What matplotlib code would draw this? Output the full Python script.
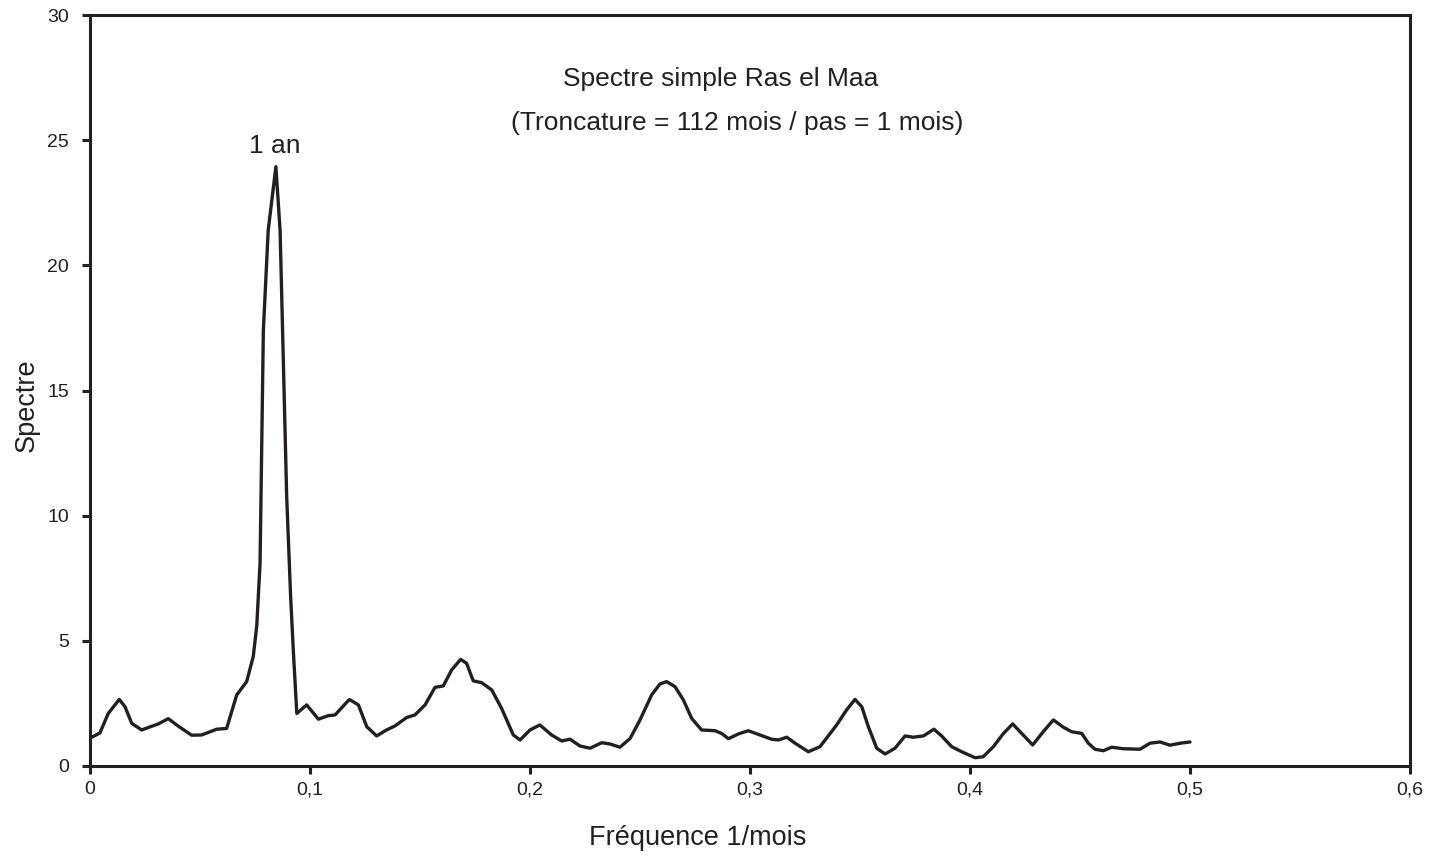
import matplotlib.pyplot as plt
import numpy as np

# spectrum (frequency in 1/mois, spectre)
freq = [0.0008, 0.0045, 0.0083, 0.0133, 0.0159, 0.019, 0.0235, 0.031, 0.0356, 0.040,
        0.0462, 0.0508, 0.0576, 0.0621, 0.0667, 0.0712, 0.0742, 0.0758, 0.0773, 0.0788,
        0.081, 0.0845, 0.0864, 0.0879, 0.0894, 0.0912, 0.0924, 0.094, 0.0985, 0.1038,
        0.1083, 0.1114, 0.1179, 0.122, 0.1258, 0.1303, 0.1348, 0.1386, 0.144, 0.1477,
        0.1523, 0.1568, 0.1606, 0.1644, 0.1685, 0.1712, 0.1742, 0.178, 0.1826, 0.1871,
        0.1924, 0.1955, 0.2, 0.2045, 0.2098, 0.2144, 0.2182, 0.2227, 0.2273, 0.2326,
        0.2364, 0.2409, 0.2455, 0.25, 0.2553, 0.2591, 0.2621, 0.2659, 0.2697, 0.2735,
        0.278, 0.2841, 0.2871, 0.2902, 0.2947, 0.2992, 0.3045, 0.3098, 0.3129, 0.3167,
        0.3205, 0.3265, 0.3318, 0.3394, 0.3439, 0.3477, 0.3508, 0.3538, 0.3576, 0.3614,
        0.3659, 0.3705, 0.3742, 0.3788, 0.3836, 0.3871, 0.3917, 0.3962, 0.4023, 0.406,
        0.4106, 0.4152, 0.4194, 0.4235, 0.4285, 0.4333, 0.4379, 0.4424, 0.4462, 0.4508,
        0.4538, 0.4568, 0.4606, 0.4644, 0.4697, 0.4773, 0.4818, 0.4864, 0.4909, 0.4955,
        0.5]
spectre = [1.15, 1.32, 2.1, 2.66, 2.37, 1.7, 1.44, 1.68, 1.89, 1.6,
           1.23, 1.24, 1.47, 1.5, 2.84, 3.37, 4.37, 5.6, 8.1, 17.4,
           21.4, 23.94, 21.4, 16.1, 10.76, 6.76, 4.63, 2.1, 2.44, 1.87,
           2.01, 2.04, 2.66, 2.44, 1.57, 1.2, 1.44, 1.6, 1.94, 2.04,
           2.44, 3.14, 3.2, 3.84, 4.26, 4.1, 3.4, 3.33, 3.04, 2.3,
           1.24, 1.04, 1.44, 1.64, 1.24, 1.0, 1.07, 0.8, 0.71, 0.93,
           0.88, 0.75, 1.1, 1.84, 2.84, 3.28, 3.37, 3.17, 2.64, 1.9,
           1.44, 1.41, 1.3, 1.09, 1.28, 1.41, 1.24, 1.07, 1.04, 1.15,
           0.91, 0.57, 0.77, 1.64, 2.24, 2.66, 2.37, 1.57, 0.71, 0.48,
           0.71, 1.2, 1.15, 1.2, 1.47, 1.2, 0.77, 0.57, 0.33, 0.37,
           0.77, 1.3, 1.68, 1.3, 0.84, 1.37, 1.84, 1.55, 1.37, 1.3,
           0.91, 0.67, 0.61, 0.75, 0.69, 0.67, 0.91, 0.96, 0.83, 0.91,
           0.96]

xticks = [0, 0.1, 0.2, 0.3, 0.4, 0.5, 0.6]
xticklabels = ['0', '0,1', '0,2', '0,3', '0,4', '0,5', '0,6']
yticks = [0, 5, 10, 15, 20, 25, 30]

plt.rcParams['font.family'] = ['Liberation Sans', 'DejaVu Sans']
ink = '#231f20'

fig = plt.figure(figsize=(14.37, 8.57), dpi=100)
ax = fig.add_axes([90/1437, 1-766/857, 1320/1437, 751/857])

ax.plot(freq, spectre, color=ink, lw=2.4, solid_joinstyle='round', solid_capstyle='round')

ax.set_xlim(0, 0.6)
ax.set_ylim(0, 30)
ax.set_xticks(xticks)
ax.set_xticklabels(xticklabels)
ax.set_yticks(yticks)
ax.set_yticklabels([str(v) for v in yticks])
ax.tick_params(direction='out', length=6, width=2.2, labelsize=14, colors=ink)
ax.tick_params(axis='x', pad=5)
ax.tick_params(axis='y', pad=9)

for s in ax.spines.values():
    s.set_linewidth(2.2)
    s.set_color(ink)

ax.set_xlabel('Fréquence 1/mois', fontsize=19.5, color=ink)
ax.set_ylabel('Spectre', fontsize=19.5, color=ink)
# the labels are a bit off-centre in the original
ax.xaxis.set_label_coords(0.4606, -0.079)
ax.yaxis.set_label_coords(-0.038, 0.481)

ax.text(0.2865, 27.45, 'Spectre simple Ras el Maa', fontsize=19, ha='center', va='center', color=ink)
ax.text(0.294, 25.7, '(Troncature = 112 mois / pas = 1 mois)', fontsize=19, ha='center', va='center', color=ink)
ax.text(0.084, 24.75, '1 an', fontsize=19, ha='center', va='center', color=ink)

fig.savefig('out.png', dpi=100)
